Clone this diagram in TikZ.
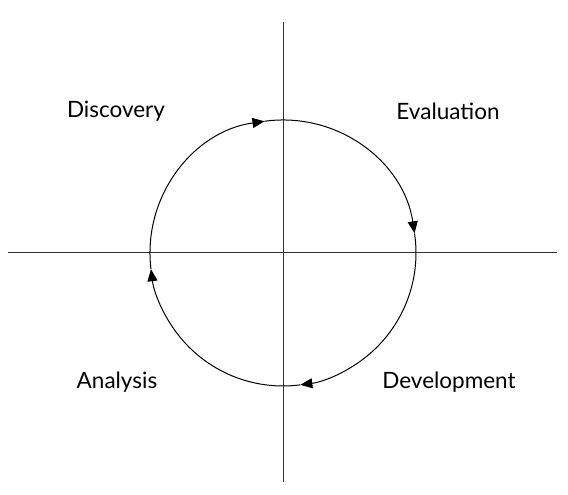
\documentclass[tikz,border=0pt]{standalone}
\usepackage{fontspec}
\setmainfont{Lato}
\usetikzlibrary{arrows.meta}
\newcommand{\radiuscycle}{133}
\tikzset{
    axis/.style={line width=1pt, black!80},
    flow/.style={line width=1pt, black, -{Triangle[length=12pt, width=10pt]}},
    phase/.style={font=\fontsize{22.5}{26}\selectfont, inner sep=0pt}
}
\begin{document}
\begin{tikzpicture}[x=1pt, y=1pt]
                \useasboundingbox (0,0) rectangle (568,495);
                \coordinate (O) at (283,242);
                \coordinate (west) at (8,242);
                \coordinate (east) at (557,242);
                \coordinate (north) at (283,473);
                \coordinate (south) at (283,13);

                \node[phase] (discovery) at (116,384) {Discovery};
                \node[phase] (evaluation) at (448,384) {Evaluation};
                \node[phase] (analysis) at (117,113) {Analysis};
                \node[phase] (development) at (449,113) {Development};

                \draw[axis] (west) -- (east) (north) -- (south);
                % four quarters of the cycle, clockwise
                \draw[flow] (O) ++(187:\radiuscycle) arc[start angle=187, end angle=98, radius=\radiuscycle];
                \draw[flow] (O) ++(98:\radiuscycle) arc[start angle=98, end angle=8.5, radius=\radiuscycle];
                \draw[flow] (O) ++(8.5:\radiuscycle) arc[start angle=8.5, end angle=-82.5, radius=\radiuscycle];
                \draw[flow] (O) ++(277.5:\radiuscycle) arc[start angle=277.5, end angle=187, radius=\radiuscycle];

            \end{tikzpicture}
\end{document}
